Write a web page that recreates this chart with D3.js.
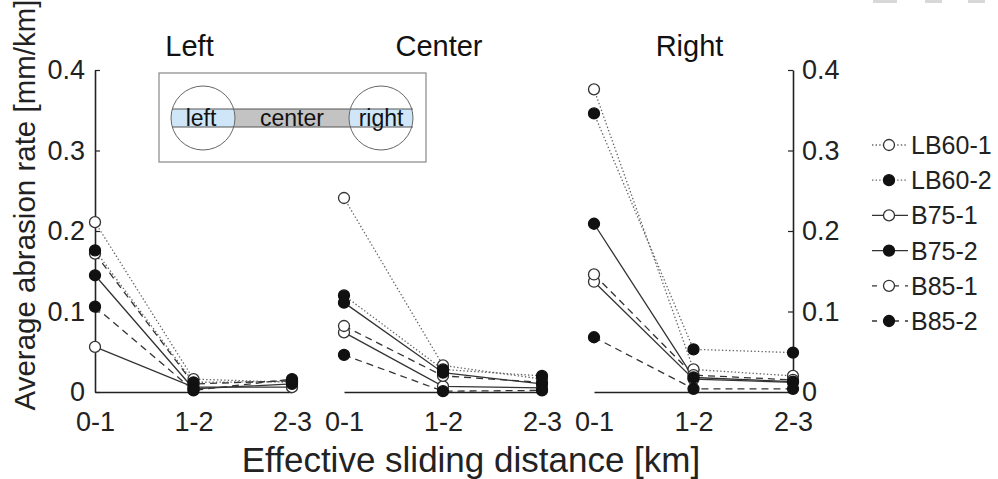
<!DOCTYPE html>
<html>
<head>
<meta charset="utf-8">
<script src="https://cdn.jsdelivr.net/npm/d3@7"></script>
<style>
  html, body { margin: 0; padding: 0; background: #fff; }
  svg { display: block; font-family: Arial, "Liberation Sans", sans-serif; }
</style>
</head>
<body>
<svg id="chart" width="998" height="479"></svg>
<script>
// Sliding distance bins and panel names
const categories = ["0-1", "1-2", "2-3"];
const panelTitles = ["Left", "Center", "Right"];
const seriesNames = ["LB60-1", "LB60-2", "B75-1", "B75-2", "B85-1", "B85-2"];
const yTicks = [0, 0.1, 0.2, 0.3, 0.4];

// Average abrasion rate [mm/km], one row per series (same order as seriesNames)
const leftRates = [
  [0.211, 0.016, 0.012],
  [0.176, 0.012, 0.013],
  [0.056, 0.006, 0.006],
  [0.145, 0.004, 0.010],
  [0.172, 0.010, 0.014],
  [0.106, 0.002, 0.016]
];
const centerRates = [
  [0.241, 0.033, 0.016],
  [0.120, 0.028, 0.020],
  [0.074, 0.007, 0.005],
  [0.111, 0.024, 0.010],
  [0.082, 0.020, 0.012],
  [0.046, 0.001, 0.002]
];
const rightRates = [
  [0.376, 0.028, 0.020],
  [0.346, 0.053, 0.049],
  [0.137, 0.016, 0.012],
  [0.209, 0.018, 0.013],
  [0.146, 0.021, 0.015],
  [0.068, 0.004, 0.004]
];
const panelRates = [leftRates, centerRates, rightRates];

// Line / marker styling per series
const seriesDash = ["1.4,2.2", "1.4,2.2", null, null, "7,5", "7,5"];
const legendDash = ["1.4,2.2", "1.4,2.2", null, null, "5,6", "5,6"];
const seriesStroke = ["#666", "#666", "#333", "#333", "#333", "#333"];
const seriesFilled = [false, true, false, true, false, true];

const svg = d3.select("#chart");
const font = 'Arial, "Liberation Sans", sans-serif';

const y = d3.scaleLinear().domain([0, 0.4]).range([392, 70]);
const panelRanges = [[95, 292], [344, 542], [594, 793]];
const xScales = panelRanges.map(r => d3.scalePoint().domain(categories).range(r));

const fmt = d => d === 0 ? "0" : d3.format(".1f")(d);

// Left y axis
const yLeft = svg.append("g").attr("transform", "translate(95,0)")
  .call(d3.axisLeft(y).tickValues(yTicks).tickFormat(fmt)
    .tickSizeInner(-5).tickSizeOuter(0).tickPadding(10));
// Right y axis
const yRight = svg.append("g").attr("transform", "translate(793,0)")
  .call(d3.axisRight(y).tickValues(yTicks).tickFormat(fmt)
    .tickSizeInner(-5).tickSizeOuter(0).tickPadding(9));
[yLeft, yRight].forEach(g => {
  g.select(".domain").attr("stroke", "#222").attr("stroke-width", 1.6);
  g.selectAll(".tick line").attr("stroke", "#222").attr("stroke-width", 1.2);
  g.selectAll("text").attr("font-size", 27).attr("font-family", font).attr("fill", "#222");
});

// Panels
panelRates.forEach((rates, p) => {
  const x = xScales[p];
  const gx = svg.append("g").attr("transform", `translate(0,${y(0)})`)
    .call(d3.axisBottom(x).tickSize(0).tickPadding(20));
  gx.select(".domain").attr("stroke", "#222").attr("stroke-width", 1.6);
  gx.selectAll("text").attr("font-size", 27).attr("font-family", font).attr("fill", "#222");

  svg.append("text")
    .attr("x", x("1-2") - 4).attr("y", 56)
    .attr("text-anchor", "middle")
    .attr("font-size", 29).attr("font-family", font).attr("fill", "#111")
    .text(panelTitles[p]);

  const line = d3.line().x((d, i) => x(categories[i])).y(d => y(d));
  const g = svg.append("g");
  rates.forEach((vals, s) => {
    g.append("path").datum(vals)
      .attr("d", line)
      .attr("fill", "none")
      .attr("stroke", seriesStroke[s])
      .attr("stroke-width", 1.3)
      .attr("stroke-dasharray", seriesDash[s]);
  });
  // open markers first, then filled on top
  [false, true].forEach(filled => {
    rates.forEach((vals, s) => {
      if (seriesFilled[s] !== filled) return;
      g.selectAll(null).data(vals).enter().append("circle")
        .attr("cx", (d, i) => x(categories[i]))
        .attr("cy", d => y(d))
        .attr("r", 5.5)
        .attr("fill", filled ? "#111" : "#fff")
        .attr("stroke", filled ? "#111" : "#333")
        .attr("stroke-width", 1.3);
    });
  });
});

// Axis titles
svg.append("text")
  .attr("x", 471).attr("y", 472)
  .attr("text-anchor", "middle")
  .attr("font-size", 35).attr("font-family", font).attr("fill", "#222")
  .text("Effective sliding distance [km]");
svg.append("text")
  .attr("transform", "translate(35,205) rotate(-90)")
  .attr("text-anchor", "middle")
  .attr("font-size", 29.5).attr("font-family", font).attr("fill", "#222")
  .text("Average abrasion rate [mm/km]");

// Legend
const legendY = d3.scalePoint().domain(seriesNames).range([145, 321]);
const legend = svg.append("g");
seriesNames.forEach((name, s) => {
  const ly = legendY(name);
  legend.append("line")
    .attr("x1", 872).attr("x2", 908).attr("y1", ly).attr("y2", ly)
    .attr("stroke", seriesStroke[s]).attr("stroke-width", 1.3)
    .attr("stroke-dasharray", legendDash[s]);
  legend.append("circle")
    .attr("cx", 889).attr("cy", ly).attr("r", 5.5)
    .attr("fill", seriesFilled[s] ? "#111" : "#fff")
    .attr("stroke", seriesFilled[s] ? "#111" : "#333").attr("stroke-width", 1.3);
  legend.append("text")
    .attr("x", 911).attr("y", ly).attr("dy", "0.36em")
    .attr("font-size", 25).attr("font-family", font).attr("fill", "#222")
    .text(name);
});

// Inset sketch of the specimen regions
const inset = svg.append("g");
inset.append("rect").attr("x", 159).attr("y", 73).attr("width", 267).attr("height", 89)
  .attr("fill", "#fff").attr("stroke", "#888").attr("stroke-width", 1.2);
const bandTop = 109, bandH = 18, cr = 32;
const circles = [203, 381];
inset.append("rect").attr("x", circles[0]).attr("y", bandTop)
  .attr("width", circles[1] - circles[0]).attr("height", bandH).attr("fill", "#c3c3c3");
const clip = svg.append("defs");
circles.forEach((cx, i) => {
  clip.append("clipPath").attr("id", "cc" + i)
    .append("circle").attr("cx", cx).attr("cy", 118).attr("r", cr);
  inset.append("circle").attr("cx", cx).attr("cy", 118).attr("r", cr).attr("fill", "#fff");
  inset.append("rect").attr("x", cx - cr).attr("y", bandTop).attr("width", 2 * cr).attr("height", bandH)
    .attr("fill", "#cfe6f8").attr("clip-path", `url(#cc${i})`);
});
[bandTop, bandTop + bandH].forEach(by => {
  inset.append("line").attr("x1", 172).attr("x2", 413).attr("y1", by).attr("y2", by)
    .attr("stroke", "#555").attr("stroke-width", 1);
});
circles.forEach(cx => {
  inset.append("circle").attr("cx", cx).attr("cy", 118).attr("r", cr)
    .attr("fill", "none").attr("stroke", "#666").attr("stroke-width", 1);
});
[["left", 201], ["center", 292], ["right", 381]].forEach(([t, tx]) => {
  inset.append("text").attr("x", tx).attr("y", 126).attr("text-anchor", "middle")
    .attr("font-size", 23).attr("font-family", font).attr("fill", "#111").text(t);
});

// faint marks along the top edge
[[873, 24], [925, 17], [968, 17]].forEach(([mx, mw]) => {
  svg.append("rect").attr("x", mx).attr("y", 0).attr("width", mw).attr("height", 3).attr("fill", "#d8d8d8");
});
</script>
</body>
</html>
